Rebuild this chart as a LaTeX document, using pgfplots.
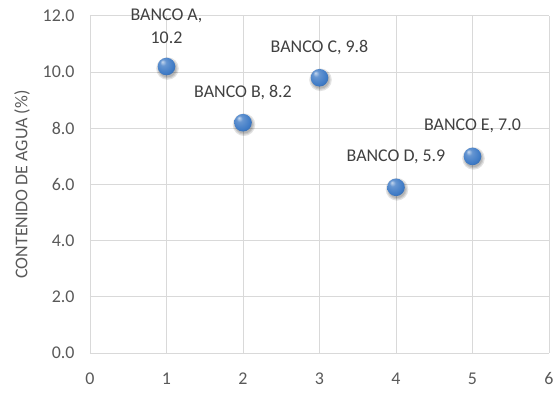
\documentclass[border=0pt]{standalone}
\usepackage{fontspec}
\setmainfont{Carlito}
\usepackage{pgfplots}
\pgfplotsset{compat=1.18}
\definecolor{txt}{HTML}{595959}
\definecolor{lbl}{HTML}{404040}
\definecolor{gridc}{HTML}{D9D9D9}
\definecolor{ballc}{HTML}{3F7BC6}
% glossy sphere: highlight up-left, darker rim
\pgfdeclareradialshading{glossyball}{\pgfpoint{-12bp}{14bp}}{%
  color(0bp)=(ballc!30!white);
  color(9bp)=(ballc!80!white);
  color(26bp)=(ballc);
  color(40bp)=(ballc!75!black);
  color(50bp)=(ballc!45!black)}
\pgfdeclareplotmark{glossy}{%
  \pgfpathcircle{\pgfpointorigin}{\pgfplotmarksize}%
  \pgfshadepath{glossyball}{0}%
  \pgfusepath{discard}}
% soft drop shadow, slightly below and to the right
\pgfdeclareplotmark{softshadow}{%
  \pgfsetfillcolor{black}%
  \pgfsetfillopacity{0.11}%
  \pgfpathcircle{\pgfpoint{1bp}{-2bp}}{\dimexpr\pgfplotmarksize+2.5bp\relax}\pgfusepath{fill}%
  \pgfpathcircle{\pgfpoint{1bp}{-2bp}}{\dimexpr\pgfplotmarksize+1.2bp\relax}\pgfusepath{fill}%
  \pgfpathcircle{\pgfpoint{1bp}{-2bp}}{\pgfplotmarksize}\pgfusepath{fill}}
\pgfplotstableread{
x y
1 10.2
2 8.2
3 9.8
4 5.9
5 7.0
}\banks
\begin{document}
\begin{tikzpicture}
\begin{axis}[
  scale only axis, width=459bp, height=337bp,
  xmin=0, xmax=6, ymin=0, ymax=12,
  xtick={0,...,6}, ytick={0,2,...,12},
  grid=major, major grid style={gridc, line width=1pt},
  axis line style={draw=none},
  tick style={draw=none},
  font=\fontsize{18}{22}\selectfont,
  ticklabel style={txt},
  /pgf/number format/assume math mode=true,
  yticklabel style={/pgf/number format/fixed, /pgf/number format/fixed zerofill, /pgf/number format/precision=1, xshift=-12bp},
  xticklabel style={yshift=-16bp},
  ylabel={CONTENIDO DE AGUA (\%)}, ylabel style={txt}, ylabel shift=6bp,
  clip=false,
]
\addplot[only marks, mark=softshadow, mark size=8.8bp] table {\banks};
% the points with their labels
\addplot[only marks, mark=glossy, mark size=8.8bp,
  point meta=explicit symbolic,
  nodes near coords,
  nodes near coords style={lbl, align=center, anchor=south, inner sep=0pt, yshift=23bp, font=\fontsize{18}{23}\selectfont},
] coordinates {
  (1,10.2) [BANCO A,\\10.2]
  (2,8.2) [BANCO B, 8.2]
  (3,9.8) [BANCO C, 9.8]
  (4,5.9) [BANCO D, 5.9]
  (5,7.0) [BANCO E, 7.0]
};
\end{axis}
\pgfresetboundingbox
\path[use as bounding box] (-90bp,-40bp) rectangle (470bp,353bp);
\end{tikzpicture}
\end{document}
